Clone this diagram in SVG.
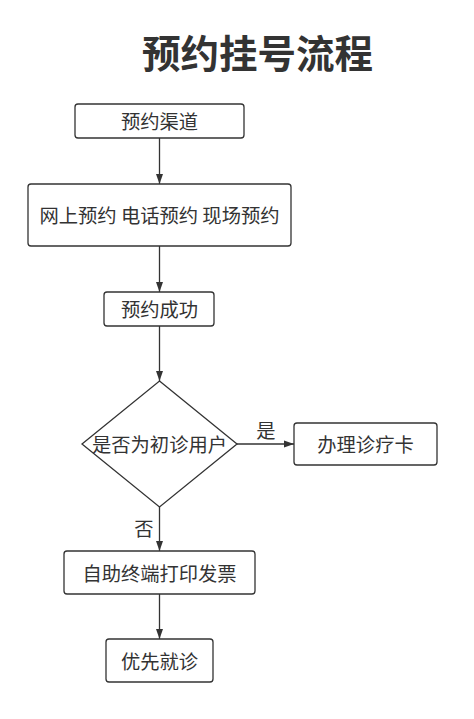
<svg xmlns="http://www.w3.org/2000/svg" width="474" height="719" viewBox="0 0 474 719">
<defs>
<style>
.box{fill:#fff;stroke:#333;stroke-width:1.3}
.t{font-family:"Noto Sans CJK SC","Noto Sans",sans-serif;font-size:19.3px;fill:#333;text-anchor:middle;dominant-baseline:central}
.title{font-family:"Noto Sans CJK SC","Noto Sans",sans-serif;font-size:38.5px;font-weight:bold;fill:#333;text-anchor:middle}
.ln{stroke:#333;stroke-width:1.3;fill:none;marker-end:url(#ah)}
</style>
<marker id="ah" viewBox="0 0 10 10" refX="10" refY="5" markerWidth="10" markerHeight="10" markerUnits="userSpaceOnUse" orient="auto">
<path d="M0,1.5 L10,5 L0,8.5 z" fill="#333"/>
</marker>
</defs>
<rect width="474" height="719" fill="#fff"/>
<text class="title" x="257.5" y="68">预约挂号流程</text>
<g id="connectors">
<line class="ln" x1="159.5" y1="138" x2="159.5" y2="184"/>
<line class="ln" x1="159.5" y1="246" x2="159.5" y2="292"/>
<line class="ln" x1="159.5" y1="326" x2="159.5" y2="381"/>
<line class="ln" x1="237" y1="444" x2="294" y2="444"/>
<line class="ln" x1="159.5" y1="507" x2="159.5" y2="551"/>
<line class="ln" x1="159.5" y1="594" x2="159.5" y2="639"/>
<text class="t" x="266" y="430">是</text>
<text class="t" x="144" y="528">否</text>
</g>
<g id="n1"><rect class="box" x="75" y="104" width="169" height="34" rx="3"/><text class="t" x="159.5" y="121">预约渠道</text></g>
<g id="n2"><rect class="box" x="28" y="184" width="263" height="62" rx="3"/><text class="t" x="159.5" y="215">网上预约 电话预约 现场预约</text></g>
<g id="n3"><rect class="box" x="104" y="292" width="110" height="34" rx="3"/><text class="t" x="159.5" y="309">预约成功</text></g>
<g id="n4"><path class="box" d="M159.5,381 L237,444 L159.5,507 L82,444 Z"/><text class="t" x="159.5" y="444">是否为初诊用户</text></g>
<g id="n5"><rect class="box" x="294" y="423" width="143" height="42" rx="3"/><text class="t" x="365.5" y="444">办理诊疗卡</text></g>
<g id="n6"><rect class="box" x="64" y="551" width="191" height="43" rx="3"/><text class="t" x="159.5" y="572.5">自助终端打印发票</text></g>
<g id="n7"><rect class="box" x="106" y="639" width="107" height="43" rx="3"/><text class="t" x="159.5" y="660.5">优先就诊</text></g>
</svg>
